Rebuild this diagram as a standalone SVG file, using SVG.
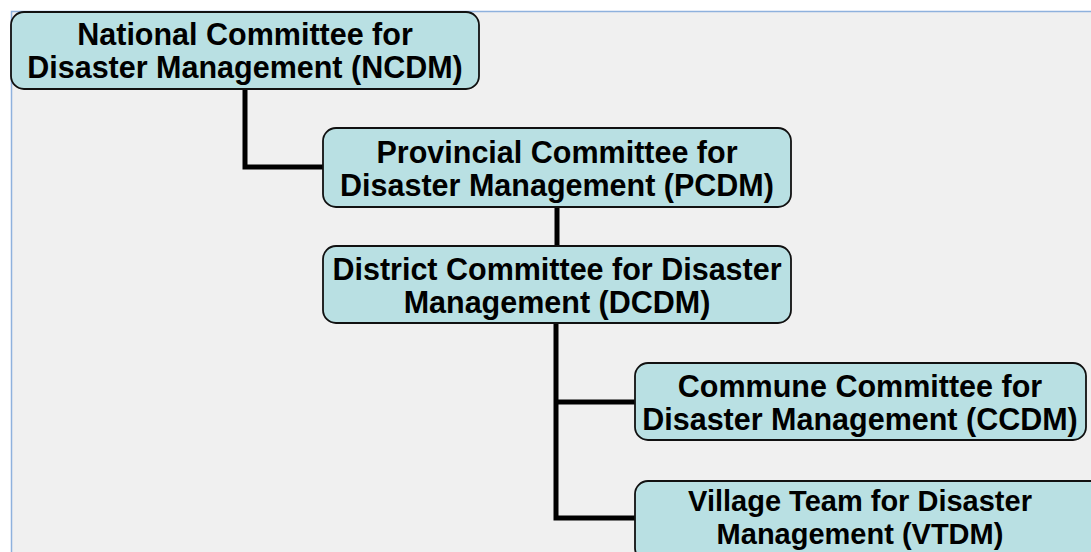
<svg xmlns="http://www.w3.org/2000/svg" width="1091" height="552" viewBox="0 0 1091 552">
<style>
.box{fill:#b9e0e3;stroke:#111;stroke-width:1.8}
.t{font-family:"Liberation Sans",Arial,sans-serif;font-weight:bold;font-size:30.5px;fill:#000;text-anchor:middle}
.c{fill:none;stroke:#000;stroke-width:5;stroke-linejoin:miter;stroke-linecap:butt}
</style>
<rect x="0" y="0" width="1091" height="552" fill="#ffffff"/>
<rect x="11.5" y="11.5" width="1090" height="560" fill="#f0f0f0" stroke="#8eb1dd" stroke-width="1.5"/>
<g id="connectors">
<polyline class="c" points="245,89 245,167 323,167"/>
<line class="c" x1="557" y1="207" x2="557" y2="246"/>
<polyline class="c" points="556,323 556,518 635,518"/>
<line class="c" x1="556" y1="402" x2="635" y2="402"/>
</g>
<g id="ncdm">
<rect class="box" x="11" y="12" width="468" height="77" rx="13"/>
<text class="t" x="245" y="45">National Committee for</text>
<text class="t" x="245" y="78">Disaster Management (NCDM)</text>
</g>
<g id="pcdm">
<rect class="box" x="323" y="128" width="468" height="79" rx="13"/>
<text class="t" x="557" y="163">Provincial Committee for</text>
<text class="t" x="557" y="196">Disaster Management (PCDM)</text>
</g>
<g id="dcdm">
<rect class="box" x="323" y="246" width="468" height="77" rx="13"/>
<text class="t" x="557" y="280">District Committee for Disaster</text>
<text class="t" x="557" y="313">Management (DCDM)</text>
</g>
<g id="ccdm">
<rect class="box" x="635" y="363" width="451" height="77" rx="13"/>
<text class="t" x="860" y="397">Commune Committee for</text>
<text class="t" x="860" y="430">Disaster Management (CCDM)</text>
</g>
<g id="vtdm">
<rect class="box" x="635" y="481" width="470" height="80" rx="13"/>
<text class="t" x="860" y="511" style="font-size:29px">Village Team for Disaster</text>
<text class="t" x="860" y="544" style="font-size:29px">Management (VTDM)</text>
</g>
</svg>
